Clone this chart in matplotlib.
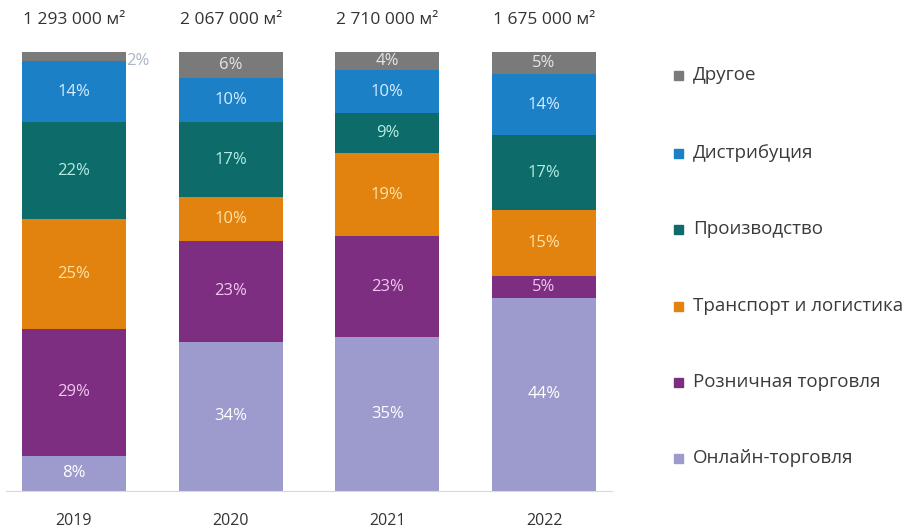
import numpy as np
import matplotlib.pyplot as plt
from matplotlib.patches import Rectangle

plt.rcParams['font.family'] = ['Open Sans', 'DejaVu Sans']

years = ['2019', '2020', '2021', '2022']
totals = ['1 293 000 м²', '2 067 000 м²', '2 710 000 м²', '1 675 000 м²']

# segments from bottom to top
segments = ['Онлайн-торговля', 'Розничная торговля', 'Транспорт и логистика',
            'Производство', 'Дистрибуция', 'Другое']
online = [8, 34, 35, 44]
retail = [29, 23, 23, 5]
transport = [25, 10, 19, 15]
production = [22, 17, 9, 17]
distribution = [14, 10, 10, 14]
other = [2, 6, 4, 5]
values = [online, retail, transport, production, distribution, other]

colors = ['#9d9bcd', '#7d2e80', '#e2820f', '#0d6c69', '#1b80c6', '#7a7a7a']
textcolors = ['#ffffff', '#f2c6f0', '#ffe3a6', '#b5ece3', '#d6ecff', '#e6e6e6']

fig = plt.figure(figsize=(9.09, 5.29), dpi=100)
W, H = 909, 529
ax = fig.add_axes([6 / W, 1 - 491 / H, 606 / W, 439 / H])

x = np.arange(len(years))
bottom = np.zeros(len(years))
for name, vals, c, tc in zip(segments, values, colors, textcolors):
    vals = np.array(vals, dtype=float)
    ax.bar(x, vals, width=0.664, bottom=bottom, color=c, label=name)
    for i, v in enumerate(vals):
        if v < 3:
            # too thin for an inside label
            ax.text(x[i] + 0.33, bottom[i] + v / 2 - 1.0, f'{int(v)}%', color='#aab6c4',
                    fontsize=12, ha='left', va='center')
        else:
            ax.text(x[i], bottom[i] + v / 2, f'{int(v)}%', color=tc,
                    fontsize=12, ha='center', va='center')
    bottom += vals

ax.set_xlim(-0.434, 3.434)
ax.set_ylim(0, 100)
for s in ['top', 'right', 'left']:
    ax.spines[s].set_visible(False)
ax.spines['bottom'].set_color('#d9d9d9')
ax.set_yticks([])
ax.set_xticks(x)
ax.set_xticklabels(years, fontsize=11.5, color='#333333')
ax.tick_params(axis='x', length=0, pad=16)

for i, t in enumerate(totals):
    ax.text(x[i], 107.3, t, ha='center', va='center', fontsize=12.5,
            color='#333333', clip_on=False)

# legend, top entry first
leg_y = [75, 153, 229, 306, 382, 458]
for yy, name, c in zip(leg_y, segments[::-1], colors[::-1]):
    fig.patches.append(Rectangle((674 / W, 1 - (yy + 5) / H), 9 / W, 9 / H,
                                 transform=fig.transFigure, color=c))
    fig.text(693 / W, 1 - yy / H, name, fontsize=13.5, color='#3a3a3a',
             va='center', ha='left')

fig.savefig('out.png', dpi=100)
